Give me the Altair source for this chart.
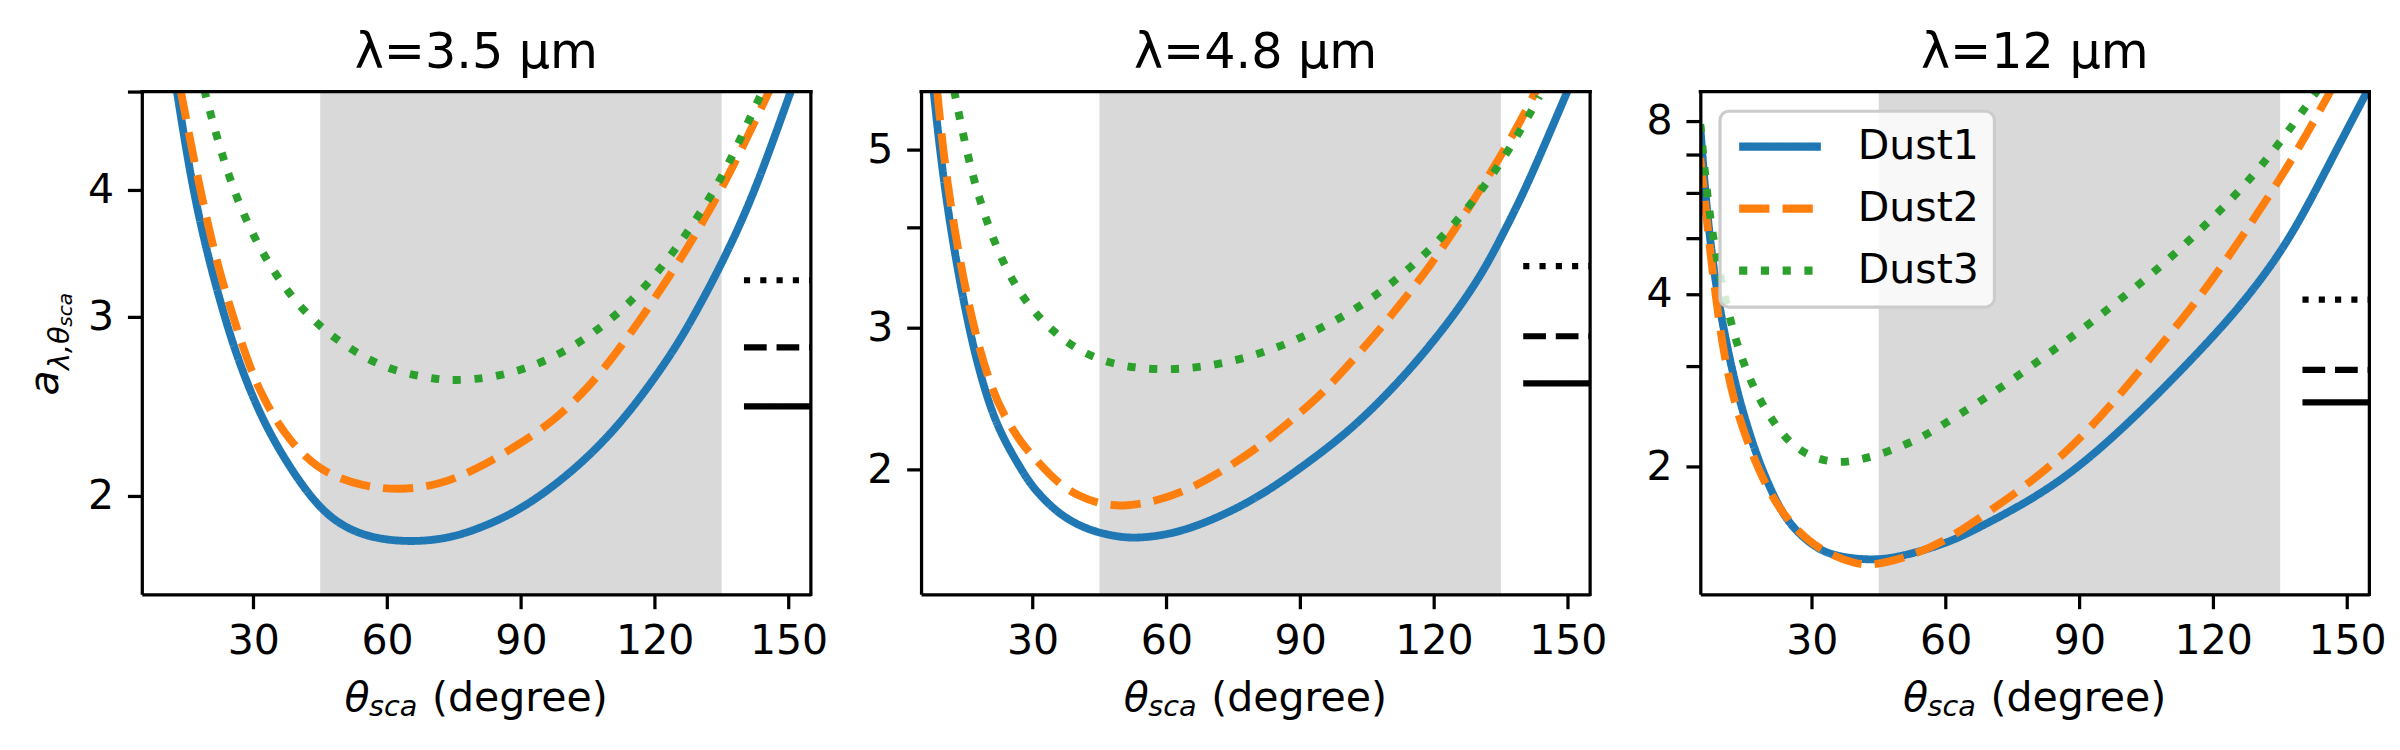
import altair as alt
import pandas as pd

FONT = "DejaVu Sans"
DUSTS = ["Dust1", "Dust2", "Dust3"]
COLORS = ["#1f77b4", "#ff7f0e", "#2ca02c"]
DASHES = [[1, 0], [30.8, 13.3], [8.3, 13.8]]
TITLES = ["λ=3.5 μm", "λ=4.8 μm", "λ=12 μm"]
X_DOMAIN = [5, 155]
X_TICKS = [30, 60, 90, 120, 150]
SHADE = [45, 135]
REF_SPAN = [140, 155]
REF_STYLES = ["dotted", "dashed", "solid"]
REF_DASHES = [[6.25, 10.3], [23.1, 10.0], [1, 0]]

Y_DOMAINS = [[1.6, 5.0], [1.4, 5.9], [1.2, 9.0]]
Y_TICKS = [[2, 3, 4, 5], [2, 3, 4, 5], [2, 3, 4, 5, 6, 7, 8]]
Y_LABELED = [[2, 3, 4], [2, 3, 5], [2, 4, 8]]

# ---- lambda = 3.5 um ----
P1_D1_T = [12.7, 15.6, 18.6, 22.4, 26.3, 31.2, 36.0, 41.8, 47.7, 55.4, 64.8, 73.8, 81.6, 89.4,
           97.1, 104.9, 112.6, 120.4, 126.2, 131.1, 134.9, 139.8, 144.6, 150.9]
P1_D1_V = [5.06, 4.20, 3.62, 3.12, 2.74, 2.42, 2.21, 2.02, 1.89, 1.82, 1.80, 1.815, 1.864, 1.934,
           2.04, 2.18, 2.365, 2.625, 2.87, 3.14, 3.38, 3.75, 4.23, 5.06]
P1_D2_T = [13.7, 16.6, 19.5, 22.4, 26.3, 29.2, 32.1, 37.0, 41.8, 46.7, 54.4, 62.7, 71.9, 80.6,
           89.4, 97.1, 104.9, 110.7, 116.5, 122.3, 127.2, 130.1, 134.0, 137.9, 141.7, 145.8]
P1_D2_V = [5.02, 4.30, 3.75, 3.32, 2.92, 2.68, 2.50, 2.30, 2.18, 2.10, 2.045, 2.025, 2.05, 2.13,
           2.245, 2.365, 2.55, 2.74, 2.97, 3.24, 3.50, 3.68, 3.94, 4.25, 4.60, 5.02]
P1_D3_T = [19.0, 21.5, 24.4, 27.8, 32.1, 37.5, 43.8, 51.5, 60.3, 69.8, 74.6, 84.3, 93.7, 102.2,
           110.2, 117.3, 123.5, 129.1, 134.3, 138.6, 142.5, 144.3]
P1_D3_V = [5.02, 4.56, 4.14, 3.78, 3.46, 3.18, 2.96, 2.79, 2.66, 2.61, 2.595, 2.615, 2.69, 2.81,
           2.98, 3.19, 3.44, 3.73, 4.06, 4.43, 4.83, 5.02]
P1_REF = [3.26, 2.80, 2.45]

# ---- lambda = 4.8 um ----
P2_D1_T = [7.8, 9.2, 11.5, 15.6, 19.3, 22.7, 27.5, 30.0, 35.8, 42.1, 48.5, 53.3, 62.1, 71.8,
           81.5, 91.2, 100.9, 110.7, 118.4, 125.2, 131.1, 135.0, 139.8, 144.7, 150.0]
P2_D1_V = [5.92, 5.0, 4.0, 3.0, 2.5, 2.22, 2.0, 1.90, 1.76, 1.685, 1.652, 1.642, 1.665, 1.745,
           1.86, 2.03, 2.23, 2.52, 2.82, 3.15, 3.53, 3.88, 4.38, 5.05, 5.92]
P2_D2_T = [8.6, 9.9, 12.3, 16.6, 21.3, 24.2, 27.1, 31.0, 35.8, 40.7, 45.5, 50.9, 58.2, 66.0,
           73.7, 81.5, 88.3, 95.1, 101.9, 107.7, 113.6, 119.4, 124.3, 129.1, 134.0, 138.8, 142.9]
P2_D2_V = [5.92, 5.0, 4.0, 3.0, 2.47, 2.31, 2.17, 2.05, 1.92, 1.85, 1.81, 1.80, 1.83, 1.90,
           2.01, 2.15, 2.31, 2.49, 2.74, 2.98, 3.27, 3.60, 3.95, 4.34, 4.81, 5.34, 5.92]
P2_D3_T = [12.4, 15.4, 18.05, 21.1, 25.1, 30.5, 37.8, 46.5, 56.2, 66.0, 75.5, 84.7, 93.8, 102.4,
           110.4, 117.5, 124.5, 130.6, 136.1, 141.0, 143.6]
P2_D3_V = [5.92, 4.91, 4.34, 3.87, 3.45, 3.12, 2.86, 2.71, 2.66, 2.67, 2.73, 2.83, 2.98, 3.16,
           3.40, 3.68, 4.03, 4.44, 4.92, 5.47, 5.82]
P2_REF = [3.58, 2.93, 2.56]

# ---- lambda = 12 um ----
P3_D1_T = [5.0, 6.05, 7.16, 8.63, 10.47, 12.68, 14.89, 17.47, 20.42, 23.74, 27.42, 31.84, 36.26,
           41.4, 45.8, 50.3, 56.2, 62.1, 67.6, 77.3, 87.0, 96.7, 106.4, 116.1, 125.8, 134.6,
           140.4, 145.2, 150.1, 154.8]
P3_D1_V = [7.8, 6.07, 4.98, 4.08, 3.39, 2.82, 2.44, 2.11, 1.85, 1.64, 1.52, 1.43, 1.395,
           1.38, 1.38, 1.40, 1.44, 1.495, 1.57, 1.72, 1.92, 2.22, 2.62, 3.13, 3.78, 4.65,
           5.55, 6.55, 7.75, 9.1]
P3_D2_T = [5.0, 5.7, 6.42, 7.67, 9.0, 10.3, 12.3, 15.26, 18.95, 24.1, 31.5, 40.3, 43.6, 49.9,
           59.1, 68.6, 78.3, 88.0, 97.7, 107.4, 117.1, 125.8, 134.6, 140.4, 146.4]
P3_D2_V = [6.9, 6.15, 5.4, 4.42, 3.68, 3.15, 2.64, 2.24, 1.90, 1.62, 1.43, 1.35, 1.35, 1.38,
           1.47, 1.65, 1.86, 2.15, 2.59, 3.20, 3.95, 4.94, 6.27, 7.45, 9.05]
P3_D3_T = [5.0, 5.46, 6.42, 7.67, 9.37, 11.58, 14.3, 18.06, 23.37, 27.05, 31.47, 36.26, 41.05,
           45.84, 50.63, 55.05, 59.1, 67.4, 75.4, 83.3, 91.1, 98.7, 106.4, 113.7, 120.8, 127.6,
           133.8, 139.6, 142.3, 143.4]
P3_D3_V = [7.9, 7.25, 6.07, 5.11, 4.33, 3.62, 3.07, 2.62, 2.27, 2.14, 2.06, 2.03, 2.06,
           2.11, 2.18, 2.26, 2.36, 2.59, 2.85, 3.16, 3.49, 3.89, 4.34, 4.88, 5.51, 6.25,
           7.14, 8.22, 8.82, 9.05]
P3_REF = [3.91, 2.95, 2.59]

CURVES = [
    [(P1_D1_T, P1_D1_V), (P1_D2_T, P1_D2_V), (P1_D3_T, P1_D3_V)],
    [(P2_D1_T, P2_D1_V), (P2_D2_T, P2_D2_V), (P2_D3_T, P2_D3_V)],
    [(P3_D1_T, P3_D1_V), (P3_D2_T, P3_D2_V), (P3_D3_T, P3_D3_V)],
]
REFS = [P1_REF, P2_REF, P3_REF]

W, H = 680, 511
BIG = 41.7
SUB = 29.2
SUBSUB = 20.4
SPINE = 3.3


def piece(txt, x, y, size, italic, angle=0, align="left"):
    kw = dict(text=txt, font=FONT, fontSize=size,
              fontStyle="italic" if italic else "normal",
              align=align, baseline="alphabetic", color="black")
    if angle:
        kw["angle"] = angle
    return alt.Chart(alt.Data(values=[{"k": 0}])).mark_text(**kw).encode(
        x=alt.value(x), y=alt.value(y))


def build_panel(i):
    xs = alt.Scale(domain=X_DOMAIN, nice=False, zero=False)
    ys = alt.Scale(type="log", domain=Y_DOMAINS[i], nice=False, zero=False)

    shade = alt.Chart(pd.DataFrame({"x0": [SHADE[0]], "x1": [SHADE[1]]})).mark_rect(
        color="#d9d9d9").encode(x=alt.X("x0:Q", scale=xs, axis=None), x2="x1:Q")

    rows = []
    for d, (t, v) in zip(DUSTS, CURVES[i]):
        rows += [{"theta": a, "value": b, "dust": d} for a, b in zip(t, v)]
    df = pd.DataFrame(rows)

    if i == 2:
        leg = alt.Legend(title=None, orient="top-left", offset=20, padding=15,
                         labelFont=FONT, labelFontSize=BIG, labelColor="black",
                         symbolType="stroke", symbolSize=6900, symbolStrokeWidth=8.3,
                         labelOffset=33, rowPadding=20, clipHeight=42,
                         fillColor="rgba(255,255,255,0.8)", strokeColor="#cccccc",
                         cornerRadius=9)
    else:
        leg = None

    labeled = ",".join(str(v) for v in Y_LABELED[i])
    curves = alt.Chart(df).mark_line(strokeWidth=8, clip=True, interpolate="basis").encode(
        x=alt.X("theta:Q", scale=xs,
                axis=alt.Axis(values=X_TICKS, title=None, zindex=1, labelPadding=13)),
        y=alt.Y("value:Q", scale=ys,
                axis=alt.Axis(values=Y_TICKS[i], title=None, zindex=1, labelPadding=14,
                              labelExpr=f"indexof([{labeled}], datum.value) >= 0 ? format(datum.value, 'd') : ''")),
        color=alt.Color("dust:N", scale=alt.Scale(domain=DUSTS, range=COLORS), legend=leg),
        strokeDash=alt.StrokeDash("dust:N", scale=alt.Scale(domain=DUSTS, range=DASHES), legend=leg),
    )

    ref_df = pd.DataFrame({"x0": REF_SPAN[0], "x1": REF_SPAN[1],
                           "value": REFS[i], "style": REF_STYLES})
    refs = []
    for style, dash in zip(REF_STYLES, REF_DASHES):
        sub = ref_df[ref_df["style"] == style]
        refs.append(alt.Chart(sub).mark_rule(color="black", strokeWidth=6.25,
                                             strokeDash=dash, clip=True).encode(
            x=alt.X("x0:Q", scale=xs, axis=None), x2="x1:Q",
            y=alt.Y("value:Q", scale=ys, axis=None)))

    # top and right spines, drawn from the axis limits
    frame_df = pd.DataFrame({"x0": [X_DOMAIN[0]], "x1": [X_DOMAIN[1]],
                             "y0": [Y_DOMAINS[i][0]], "y1": [Y_DOMAINS[i][1]]})
    top = alt.Chart(frame_df).mark_rule(color="black", strokeWidth=SPINE, strokeCap="square").encode(
        x=alt.X("x0:Q", scale=xs, axis=None), x2="x1:Q",
        y=alt.Y("y1:Q", scale=ys, axis=None))
    right = alt.Chart(frame_df).mark_rule(color="black", strokeWidth=SPINE, strokeCap="square").encode(
        x=alt.X("x1:Q", scale=xs, axis=None),
        y=alt.Y("y0:Q", scale=ys, axis=None), y2="y1:Q")

    texts = [
        piece(TITLES[i], W / 2, -24, 50, False, align="center"),
        piece("θ", 206, 630, BIG, True),
        piece("sca", 231, 635, SUB, True),
        piece("(degree)", 295, 630, BIG, False),
    ]
    if i == 0:
        texts += [
            piece("a", -85, 309, BIG, True, 270),
            piece("λ,θ", -74, 283, SUB, True, 270),
            piece("sca", -71, 239, SUBSUB, True, 270),
        ]

    return alt.layer(shade, curves, *refs, top, right, *texts).resolve_axis(
        x="independent", y="independent").properties(width=W, height=H)


panels = [build_panel(i) for i in range(3)]

chart = alt.hconcat(*panels, spacing=38).resolve_legend(
    color="independent", strokeDash="independent").properties(
    padding={"left": 17, "top": 14, "right": 5, "bottom": 5}
).configure_view(stroke="transparent").configure_axis(
    domainColor="black", domainWidth=SPINE, tickColor="black", tickWidth=SPINE, tickSize=14.6,
    labelFont=FONT, labelFontSize=BIG, labelColor="black", grid=False,
    labelOverlap=False, labelFlush=False
).configure_legend(strokeWidth=3.3)

chart.save("out.html", embed_options={"renderer": "svg", "actions": False})
